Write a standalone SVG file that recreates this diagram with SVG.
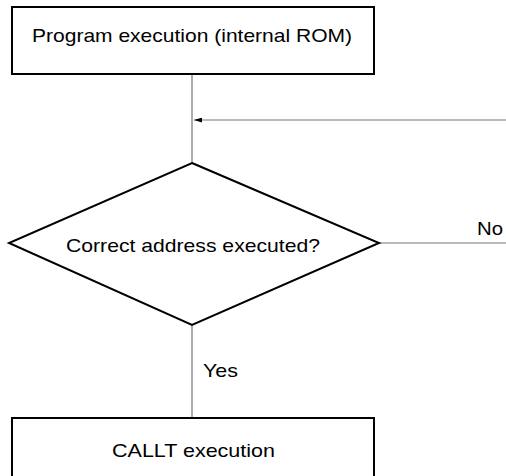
<svg xmlns="http://www.w3.org/2000/svg" width="506" height="476" viewBox="0 0 506 476">
<defs>
<style>
.box{fill:#fff;stroke:#000;stroke-width:2}
.t{font-family:"Liberation Sans",Arial,sans-serif;font-size:19px;fill:#000}
.c{stroke:#777;stroke-width:1.2;fill:none}
</style>
<marker id="ah" viewBox="0 0 10 6" refX="10" refY="3" markerWidth="8" markerHeight="5" orient="auto" markerUnits="userSpaceOnUse"><path d="M0,0 L10,3 L0,6 Z" fill="#000"/></marker>
</defs>
<rect width="506" height="476" fill="#fff"/>
<g id="connectors">
<line class="c" x1="192" y1="74" x2="192" y2="163"/>
<line class="c" x1="506" y1="120" x2="194" y2="120" marker-end="url(#ah)"/>
<line class="c" x1="379" y1="243" x2="506" y2="243"/>
<line class="c" x1="192" y1="325" x2="192" y2="418"/>
<text class="t" x="477" y="235" textLength="26" lengthAdjust="spacingAndGlyphs">No</text>
<text class="t" x="203" y="376.5" textLength="35" lengthAdjust="spacingAndGlyphs">Yes</text>
</g>
<g id="start">
<rect class="box" x="12" y="7" width="362" height="67"/>
<text class="t" x="32" y="42" textLength="320" lengthAdjust="spacingAndGlyphs">Program execution (internal ROM)</text>
</g>
<g id="decision">
<polygon class="box" points="192,163 379,243 192,325 9,243"/>
<text class="t" x="66" y="252" textLength="254" lengthAdjust="spacingAndGlyphs">Correct address executed?</text>
</g>
<g id="callt">
<rect class="box" x="12" y="418" width="362" height="70"/>
<text class="t" x="112" y="457" textLength="163" lengthAdjust="spacingAndGlyphs">CALLT execution</text>
</g>
</svg>
